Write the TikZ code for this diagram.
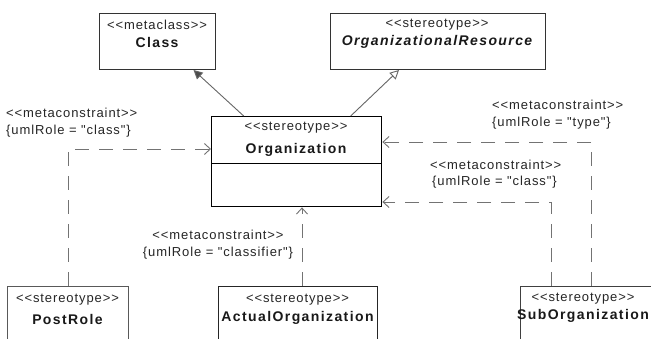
\documentclass[tikz,border=0pt]{standalone}
\usepackage{fontspec}
\newfontfamily\umlf{Liberation Sans}[LetterSpace=7]
\newfontfamily\umlb{Liberation Sans}[LetterSpace=10]
\usetikzlibrary{arrows.meta}
\begin{document}
\begin{tikzpicture}[x=1pt,y=-1pt,
  box/.style={draw=black!80, line width=1pt, fill=white, anchor=north west, inner sep=0pt},
  stereo/.style={font=\umlf\fontsize{13}{15}\selectfont, text=black!85, inner sep=0pt},
  cname/.style={font=\umlb\bfseries\fontsize{14}{16}\selectfont, text=black!90, inner sep=0pt},
  note/.style={font=\umlf\fontsize{13}{15}\selectfont, text=black!85, inner sep=0pt},
  dep/.style={draw=black!55, line width=0.9pt, dash pattern=on 14pt off 10pt,
              -{Straight Barb[length=6pt,width=11pt,line width=0.9pt]}},
  gen/.style={draw=black!60, line width=0.9pt}
]
\clip (0,0) rectangle (651,339);
\fill[white] (0,0) rectangle (651,339);

% boxes
\node[box, minimum width=116pt, minimum height=56pt] (class) at (99,13) {};
\node[box, minimum width=215pt, minimum height=56pt] (orgres) at (330,13) {};
\node[box, minimum width=170pt, minimum height=90pt, draw=black, line width=1.4pt] (org) at (211,116) {};
\node[box, minimum width=121pt, minimum height=70pt, draw=black!65] (post) at (7,286) {};
\node[box, minimum width=159pt, minimum height=70pt, draw=black!85] (act) at (218,286) {};
\node[box, minimum width=140pt, minimum height=70pt, draw=black!75] (sub) at (520,286) {};

\coordinate (sepy) at (0,164);
\draw[black, line width=1pt] (org.west |- sepy) -- (org.east |- sepy);

% box texts
\node[stereo] (classS) at (157,25) {<<metaclass>>};
\node[cname]  (classN) at (157,42) {Class};
\node[stereo] (orgresS) at (437,25) {<<stereotype>>};
\node[cname]  (orgresN) at (437,42) {\itshape OrganizationalResource};
\node[stereo] (orgS) at (296,128) {<<stereotype>>};
\node[cname]  (orgN) at (296,150) {Organization};
\node[stereo] (postS) at (67.5,300) {<<stereotype>>};
\node[cname]  (postN) at (67.5,319) {PostRole};
\node[stereo] (actS) at (297.5,300) {<<stereotype>>};
\node[cname]  (actN) at (297.5,318) {ActualOrganization};
\node[stereo] (subS) at (583,299) {<<stereotype>>};
\node[cname]  (subN) at (583,316) {SubOrganization};

% constraint labels
\node[note, anchor=west] (leftA) at (6,113) {<<metaconstraint>>};
\node[note, anchor=west] (leftB) at (6,131) {\{umlRole = "class"\}};
\node[note, anchor=west] (typeA) at (492,105) {<<metaconstraint>>};
\node[note, anchor=west] (typeB) at (492,123) {\{umlRole = "type"\}};
\node[note, anchor=west] (clsA) at (430,165) {<<metaconstraint>>};
\node[note, anchor=west] (clsB) at (432,182) {\{umlRole = "class"\}};
\node[note] (cfA) at (218,235) {<<metaconstraint>>};
\node[note] (cfB) at (218,253) {\{umlRole = "classifier"\}};

% generalizations
\draw[gen, -{Triangle[length=9pt,width=9pt,fill=black!70]}]
  ([xshift=-53pt]org.north) -- ([xshift=36pt]class.south);
\draw[gen, -{Triangle[open,length=9pt,width=9pt,fill=white]}]
  ([xshift=54pt]org.north) -- ([xshift=-39pt]orgres.south);

% dependencies
\coordinate (ly) at (0,149);
\draw[dep] (post.north) -- (post.north |- ly) -- (org.west |- ly);
\coordinate (cfx) at (302,0);
\draw[dep] (cfx |- act.north) -- (cfx |- org.south);
\coordinate (tx) at (591,0);
\coordinate (ty) at (0,142);
\draw[dep] (tx |- sub.north) -- (tx |- ty) -- (org.east |- ty);
\coordinate (cx) at (551,0);
\coordinate (cy) at (0,202);
\draw[dep] (cx |- sub.north) -- (cx |- cy) -- (org.east |- cy);
\end{tikzpicture}
\end{document}
